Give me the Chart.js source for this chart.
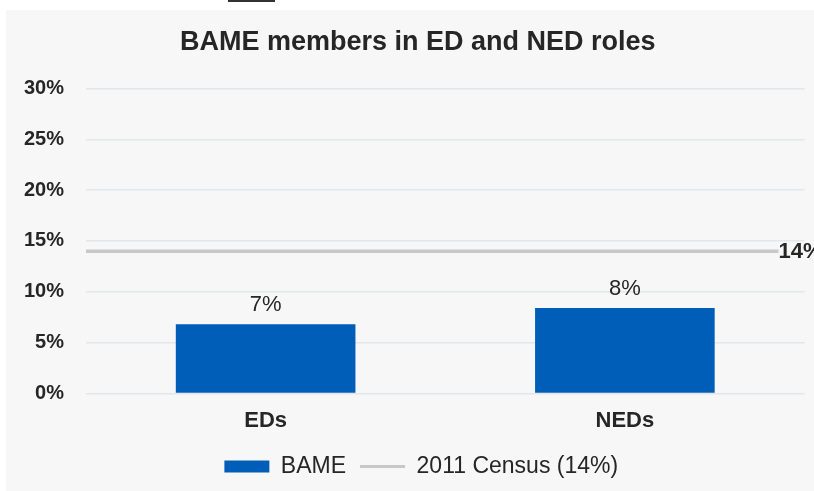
<!DOCTYPE html>
<html>
<head>
<meta charset="utf-8">
<script src="https://cdn.jsdelivr.net/npm/chart.js@4.4.0/dist/chart.umd.min.js"></script>
<style>
  body { margin: 0; background: #ffffff; }
  #marca { position: absolute; left: 228px; top: 0; width: 47px; height: 2px; background: #333; }
  #panel { position: absolute; left: 6px; top: 10px; width: 808px; height: 481px; background: #f7f7f7; }
</style>
</head>
<body>
<div id="marca"></div>
<div id="panel"><canvas id="graficoBame" width="808" height="481"></canvas></div>
<script>
// Datos del gráfico
const categorias = ['EDs', 'NEDs'];
const valoresBame = [6.8, 8.4];
const valorCenso = 14;
const ticksY = [0, 5, 10, 15, 20, 25, 30];

const azul = '#005EB8';
const gris = '#c8c8c8';
const texto = '#262626';
const fuente = '"Liberation Sans", Arial, sans-serif';

// Plugin para la línea del censo y las etiquetas de las barras
const pluginEtiquetas = {
    id: 'etiquetas',
    afterLayout(chart) {
        // centrar titulo y leyenda un poco a la derecha, como en la imagen
        chart.titleBlock.left += 4.5;
        chart.titleBlock.right += 4.5;
        chart.legend.left += 8;
        chart.legend.right += 8;
    },
    afterDatasetsDraw(chart) {
        const ctx = chart.ctx;
        const area = chart.chartArea;
        const y = chart.scales.y.getPixelForValue(valorCenso);
        ctx.save();
        ctx.strokeStyle = gris;
        ctx.lineWidth = 3.5;
        ctx.beginPath();
        ctx.moveTo(area.left, y);
        ctx.lineTo(area.right - 26, y);
        ctx.stroke();
        ctx.fillStyle = texto;
        ctx.font = 'bold 22px ' + fuente;
        ctx.textAlign = 'left';
        ctx.textBaseline = 'middle';
        ctx.fillText(valorCenso + '%', area.right - 26, y + 1);

        const meta = chart.getDatasetMeta(0);
        ctx.font = '22px ' + fuente;
        ctx.textAlign = 'center';
        ctx.textBaseline = 'alphabetic';
        meta.data.forEach(function (barra, i) {
            ctx.fillText(Math.round(valoresBame[i]) + '%', barra.x, barra.y - 13);
        });
        ctx.restore();
    }
};

const ctx = document.getElementById('graficoBame');
new Chart(ctx, {
    type: 'bar',
    data: {
        labels: categorias,
        datasets: [
            {
                label: 'BAME',
                data: valoresBame,
                backgroundColor: azul,
                borderWidth: 0,
                barPercentage: 0.5,
                categoryPercentage: 1
            },
            {
                type: 'line',
                label: '2011 Census (14%)',
                data: categorias.map(() => valorCenso),
                borderColor: gris,
                backgroundColor: gris,
                borderWidth: 3,
                showLine: false,
                pointRadius: 0
            }
        ]
    },
    options: {
        responsive: false,
        animation: false,
        layout: { padding: { left: 16, right: 9.5, top: 0, bottom: 3 } },
        plugins: {
            title: {
                display: true,
                text: 'BAME members in ED and NED roles',
                color: texto,
                font: { family: fuente, size: 27, weight: 'bold' },
                padding: { top: 16, bottom: 30 }
            },
            legend: {
                position: 'bottom',
                labels: {
                    color: texto,
                    font: { family: fuente, size: 23 },
                    usePointStyle: true,
                    pointStyleWidth: 45,
                    boxHeight: 12,
                    padding: 14,
                    generateLabels(chart) {
                        const items = Chart.defaults.plugins.legend.labels.generateLabels(chart);
                        items.forEach(function (item) {
                            if (item.text === 'BAME') {
                                item.pointStyle = 'rect';
                            } else {
                                item.pointStyle = 'line';
                                item.lineWidth = 3;
                                item.strokeStyle = gris;
                            }
                        });
                        return items;
                    }
                }
            },
            tooltip: { enabled: false }
        },
        scales: {
            x: {
                grid: { display: false },
                border: { display: false },
                ticks: {
                    color: texto,
                    padding: 4.5,
                    font: { family: fuente, size: 22, weight: 'bold', lineHeight: 1.385 }
                }
            },
            y: {
                min: 0,
                max: 30,
                afterFit(scale) { scale.width = 64; },
                afterBuildTicks(scale) { scale.ticks = ticksY.map(v => ({ value: v })); },
                grid: { color: '#e3e6ea', lineWidth: 1.5, drawTicks: false },
                border: { display: false },
                ticks: {
                    color: texto,
                    padding: 22,
                    callback: v => v + '%',
                    font: { family: fuente, size: 20, weight: 'bold' }
                }
            }
        }
    },
    plugins: [pluginEtiquetas]
});
</script>
</body>
</html>
